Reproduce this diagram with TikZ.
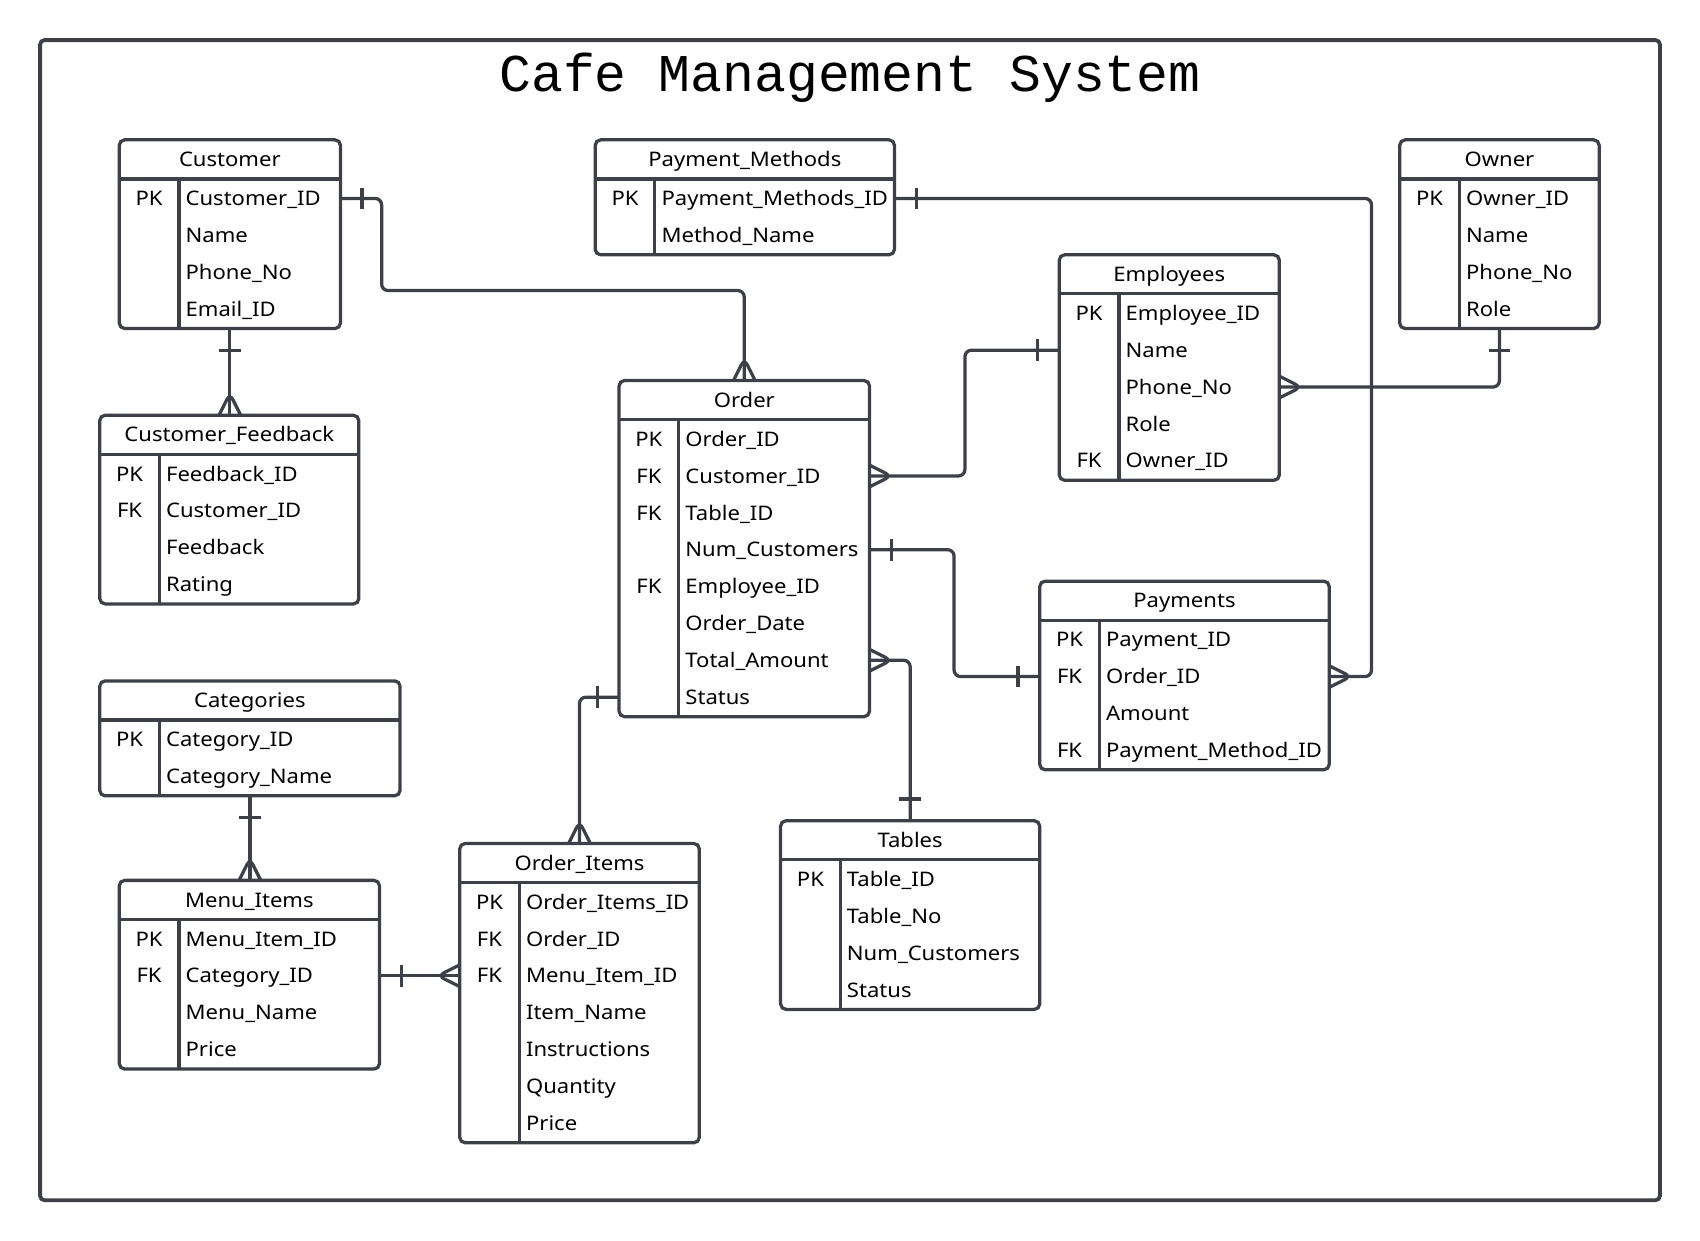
\documentclass[tikz,border=0pt]{standalone}
\usepackage{fontspec}
\setmainfont[FakeStretch=1.1]{Noto Sans}
\newfontfamily\titlefont{Liberation Mono}
\usetikzlibrary{calc,positioning,decorations.markings}
\definecolor{erc}{HTML}{3D4049}
\newcommand{\erfont}{\fontsize{18.5}{20}\selectfont}
\tikzstyle{erline}=[draw=erc, line width=3pt]
\tikzstyle{ebox}=[rectangle, erline, rounded corners=5pt, inner sep=0pt, outer sep=0pt]
\tikzstyle{etitle}=[inner sep=0pt, text height=13.3pt, text depth=0pt, font=\erfont]
\tikzstyle{ekey}=[etitle]
\tikzstyle{efield}=[etitle, anchor=west]
\tikzstyle{rel}=[erline, rounded corners=6pt]
\tikzstyle{one start}=[postaction={decorate, decoration={markings, mark=at position 20pt with {\draw[erline] (0,-10) -- (0,10);}}}]
\tikzstyle{one end}=[postaction={decorate, decoration={markings, mark=at position -20pt with {\draw[erline] (0,-10) -- (0,10);}}}]
\tikzstyle{many start}=[postaction={decorate, decoration={markings, mark=at position 20pt with {\draw[erline] (-20,-10) -- (0,0) -- (-20,10);}}}]
\tikzstyle{many end}=[postaction={decorate, decoration={markings, mark=at position -20pt with {\draw[erline] (20,-10) -- (0,0) -- (20,10);}}}]
% entity: name, left, top, width, rows, title, key/field list
\newcommand{\entity}[7]{%
  \node[ebox, minimum width=#4, minimum height={38+34*#5}, anchor=north west] (#1) at (#2,#3) {};
  \node[etitle] (#1-t) at ({#2+#4/2},{#3+18}) {#6};
  \draw[erline] (#2,{#3+36}) -- ({#2+#4},{#3+36});
  \draw[erline] ({#2+55},{#3+36}) -- ({#2+55},{#3+38+34*#5});
  \foreach \k/\f [count=\i] in {#7} {
    \node[ekey] (#1-k\i) at ({#2+27.5},{#3+20+34*\i}) {\k};
    \node[efield] (#1-\i) at ({#2+61},{#3+20+34*\i}) {\f};
  }%
}
\begin{document}
\begin{tikzpicture}[x=1pt, y=-1pt]
    \useasboundingbox (0,0) rectangle (1568,1144);
    \draw[erline, line width=3.5pt, rounded corners=4pt] (37,37) rectangle (1531,1107);
    \node[inner sep=0pt, text height=32pt, text depth=0pt] (title) at (784,68) {\titlefont\fontsize{49}{52}\selectfont Cafe Management System};

    \entity{cust}{110}{129}{204}{4}{Customer}{PK/Customer\_ID, {}/Name, {}/Phone\_No, {}/Email\_ID}
    \entity{pm}{549}{129}{276}{2}{Payment\_Methods}{PK/Payment\_Methods\_ID, {}/Method\_Name}
    \entity{own}{1291}{129}{184}{4}{Owner}{PK/Owner\_ID, {}/Name, {}/Phone\_No, {}/Role}
    \entity{emp}{977}{235}{203}{5}{Employees}{PK/Employee\_ID, {}/Name, {}/Phone\_No, {}/Role, FK/Owner\_ID}
    \entity{fb}{92}{383}{239}{4}{Customer\_Feedback}{PK/Feedback\_ID, FK/Customer\_ID, {}/Feedback, {}/Rating}
    \entity{ord}{571}{351}{231}{8}{Order}{PK/Order\_ID, FK/Customer\_ID, FK/Table\_ID, {}/Num\_Customers, FK/Employee\_ID, {}/Order\_Date, {}/Total\_Amount, {}/Status}
    \entity{pay}{959}{536}{267}{4}{Payments}{PK/Payment\_ID, FK/Order\_ID, {}/Amount, FK/Payment\_Method\_ID}
    \entity{cat}{92}{628}{277}{2}{Categories}{PK/Category\_ID, {}/Category\_Name}
    \entity{mi}{110}{812}{240}{4}{Menu\_Items}{PK/Menu\_Item\_ID, FK/Category\_ID, {}/Menu\_Name, {}/Price}
    \entity{oi}{424}{778}{221}{7}{Order\_Items}{PK/Order\_Items\_ID, FK/Order\_ID, FK/Menu\_Item\_ID, {}/Item\_Name, {}/Instructions, {}/Quantity, {}/Price}
    \entity{tab}{720}{757}{239}{4}{Tables}{PK/Table\_ID, {}/Table\_No, {}/Num\_Customers, {}/Status}

    % relationships
    \draw[rel, one start, many end] (cust.east |- cust-1) -| (352,268) -| (ord.north);
    \draw[rel, one start, many end] (cust.south) -- (cust.south |- fb.north);
    \draw[rel, one start, many end] (pm.east |- pm-1) -| (1265,400) |- (pay.east |- pay-2);
    \draw[rel, one start, many end] (emp.west |- emp-2) -| (890,400) |- (ord.east |- ord-2);
    \draw[rel, one start, many end] (own.south) |- (emp.east |- emp-3);
    \draw[rel, one start, one end] (ord.east |- ord-4) -| (880,560) |- (pay.west |- pay-2);
    \draw[rel, many start, one end] (ord.east |- ord-7) -| (tab.north);
    \draw[rel, one start, many end] (ord.west |- ord-8) -| (oi.north);
    \draw[rel, one start, many end] (cat.south) -- (cat.south |- mi.north);
    \draw[rel, one start, many end] (mi.east |- mi-2) -- (oi.west |- mi-2);
\end{tikzpicture}
\end{document}
